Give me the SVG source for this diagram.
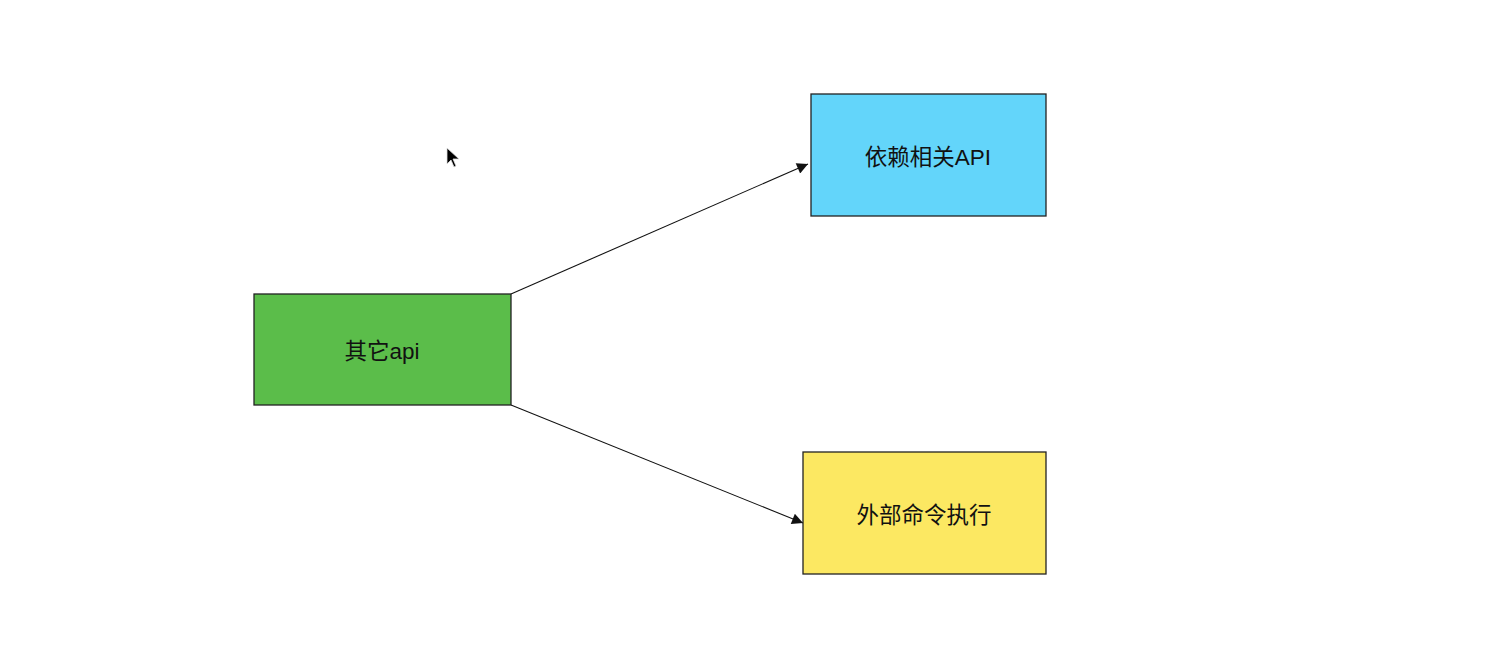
<svg xmlns="http://www.w3.org/2000/svg" width="1488" height="670" viewBox="0 0 1488 670">
<defs>
<style>
.box{stroke:#222;stroke-width:1.3}
.lbl{font-family:"Liberation Sans","Noto Sans CJK SC",sans-serif;font-size:22.5px;fill:#111;text-anchor:middle;dominant-baseline:central}
.edge{stroke:#111;stroke-width:1.1;fill:none}
</style>
<marker id="arr" viewBox="0 0 10 10" refX="10" refY="5" markerWidth="14" markerHeight="11" markerUnits="userSpaceOnUse" orient="auto">
<path d="M0,0 L10,5 L0,10 Z" fill="#111"/>
</marker>
</defs>
<rect width="1488" height="670" fill="#fff"/>
<g id="connectors">
<line class="edge" x1="511" y1="294" x2="808" y2="164" marker-end="url(#arr)"/>
<line class="edge" x1="511" y1="405" x2="803" y2="523" marker-end="url(#arr)"/>
</g>
<g id="node-other">
<rect class="box" x="254" y="294" width="257" height="111" fill="#5BBD4A"/>
<text class="lbl" x="382" y="351">其它api</text>
</g>
<g id="node-deps">
<rect class="box" x="811" y="94" width="235" height="122" fill="#63D5FA"/>
<text class="lbl" x="928" y="157">依赖相关API</text>
</g>
<g id="node-exec">
<rect class="box" x="803" y="452" width="243" height="122" fill="#FCE862"/>
<text class="lbl" x="924" y="515">外部命令执行</text>
</g>
<g id="cursor">
<path d="M447,148 L447,164 L451,160 L454,167 L456,166 L453,159 L459,159 Z" fill="#000" stroke="#ddd" stroke-width="0.8"/>
</g>
</svg>
